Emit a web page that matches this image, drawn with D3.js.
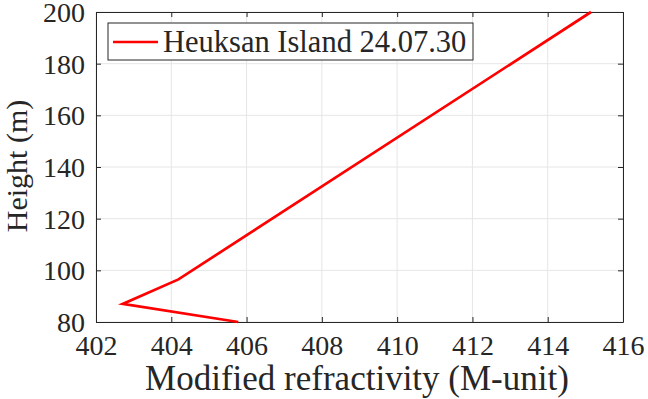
<!DOCTYPE html>
<html lang="en">
<head>
  <meta charset="UTF-8">
  <title>Modified refractivity</title>
  <script src="https://d3js.org/d3.v7.min.js"></script>
  <style>
    body { margin: 0; background: #fff; }
    svg text { font-family: "Times New Roman", Times, "Liberation Serif", "DejaVu Serif", serif; fill: #262626; }
  </style>
</head>
<body>
  <svg id="chart" width="648" height="399"></svg>
  <script>
    // profile
    var refractivity = [405.78, 402.71, 404.19, 415.15]
    var heights = [80, 87, 96.5, 200]
    var xTicks = [402, 404, 406, 408, 410, 412, 414, 416]
    var yTicks = [80, 100, 120, 140, 160, 180, 200]
    var legendLabel = "Heuksan Island 24.07.30"

    var svg = d3.select("#chart")
    var plotLeft = 96, plotRight = 623, plotTop = 12, plotBottom = 322

    var xScale = d3.scaleLinear().domain([402, 416]).range([plotLeft, plotRight])
    var yScale = d3.scaleLinear().domain([80, 200]).range([plotBottom, plotTop])

    // grid
    svg.append("g").selectAll("line").data(xTicks).enter().append("line")
      .attr("x1", function (d) { return xScale(d) }).attr("x2", function (d) { return xScale(d) })
      .attr("y1", plotTop).attr("y2", plotBottom)
      .style("stroke", "#e6e6e6").style("stroke-width", 1)
    svg.append("g").selectAll("line").data(yTicks).enter().append("line")
      .attr("y1", function (d) { return yScale(d) }).attr("y2", function (d) { return yScale(d) })
      .attr("x1", plotLeft).attr("x2", plotRight)
      .style("stroke", "#e6e6e6").style("stroke-width", 1)

    // axes, ticks pointing inward, box all round
    var axisColor = "#262626"
    function styleAxis(g) {
      g.attr("font-family", null)
      g.select(".domain").style("stroke", axisColor)
      g.selectAll(".tick line").style("stroke", axisColor)
      g.selectAll(".tick text").style("font-size", "28px").style("fill", axisColor)
    }

    svg.append("g").attr("transform", "translate(0," + plotBottom + ")")
      .call(d3.axisBottom(xScale).tickValues(xTicks).tickFormat(d3.format("d")).tickSizeInner(-5).tickSizeOuter(0))
      .call(styleAxis)
      .selectAll(".tick text").attr("dy", null).attr("y", 33)

    svg.append("g").attr("transform", "translate(" + plotLeft + ",0)")
      .call(d3.axisLeft(yScale).tickValues(yTicks).tickFormat(d3.format("d")).tickSizeInner(-5).tickSizeOuter(0))
      .call(styleAxis)
      .selectAll(".tick text").attr("x", -11).attr("dy", "0.34em")

    svg.append("g").attr("transform", "translate(0," + plotTop + ")")
      .call(d3.axisTop(xScale).tickValues(xTicks).tickFormat("").tickSizeInner(-5).tickSizeOuter(0))
      .call(styleAxis)

    svg.append("g").attr("transform", "translate(" + plotRight + ",0)")
      .call(d3.axisRight(yScale).tickValues(yTicks).tickFormat("").tickSizeInner(-5).tickSizeOuter(0))
      .call(styleAxis)

    // axis labels
    svg.append("text")
      .attr("x", 357)
      .attr("y", 390)
      .attr("text-anchor", "middle")
      .style("font-size", "35px")
      .text("Modified refractivity (M-unit)")

    svg.append("text")
      .attr("text-anchor", "middle")
      .attr("transform", "translate(27,166)rotate(-90)")
      .style("font-size", "30px")
      .text("Height (m)")

    // profile line
    var line = d3.line()
      .x(function (d, i) { return xScale(refractivity[i]) })
      .y(function (d) { return yScale(d) })

    svg.append("path")
      .datum(heights)
      .attr("d", line)
      .style("fill", "none")
      .style("stroke", "#ff0000")
      .style("stroke-width", 2.7)
      .style("stroke-linejoin", "miter")

    // legend
    var legend = svg.append("g")
    legend.append("rect")
      .attr("x", 108).attr("y", 23).attr("width", 365).attr("height", 37)
      .style("fill", "#fff").style("stroke", axisColor).style("stroke-width", 1)
    legend.append("line")
      .attr("x1", 113).attr("x2", 158).attr("y1", 42).attr("y2", 42)
      .style("stroke", "#ff0000").style("stroke-width", 2.7)
    legend.append("text")
      .attr("x", 163).attr("y", 52)
      .style("font-size", "30.5px")
      .text(legendLabel)
  </script>
</body>
</html>
